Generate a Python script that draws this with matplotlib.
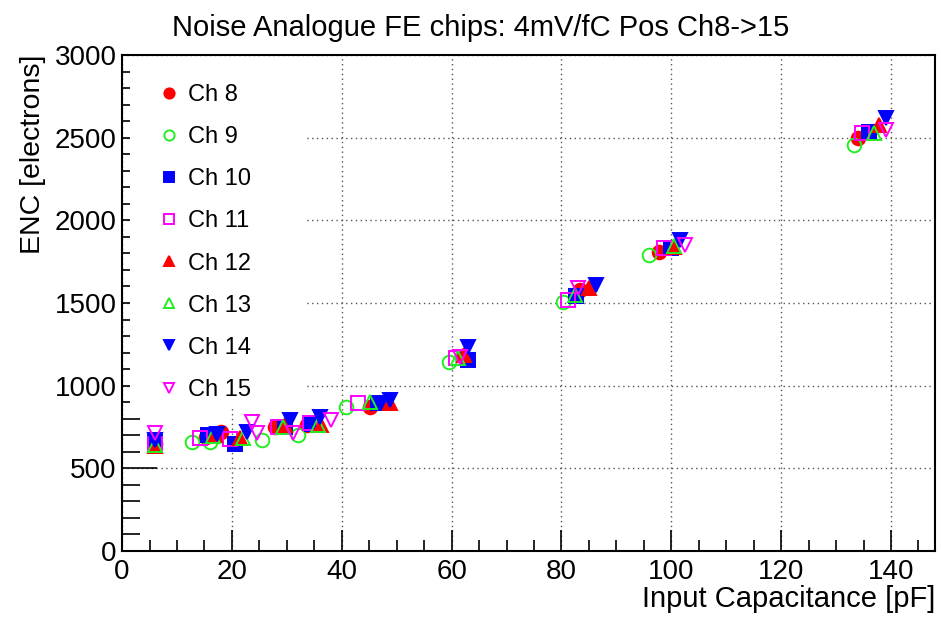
import matplotlib
matplotlib.use("Agg")
import matplotlib.pyplot as plt
from matplotlib.patches import Rectangle
from matplotlib.ticker import MultipleLocator

plt.rcParams['font.family'] = ['Liberation Sans', 'DejaVu Sans']

# ENC vs input capacitance, one list pair per channel
ch8_c = [6.0, 15.2, 18.1, 27.8, 33.6, 45.1, 62.0, 83.3, 97.8, 133.9]
ch8_e = [645, 690, 722, 752, 762, 873, 1180, 1580, 1811, 2496]
ch9_c = [6.0, 12.7, 16.0, 25.4, 32.1, 40.7, 59.6, 80.2, 96.0, 133.3]
ch9_e = [655, 661, 661, 672, 702, 873, 1145, 1508, 1791, 2456]
ch10_c = [6.0, 15.7, 20.5, 29.6, 34.5, 46.6, 63.0, 82.7, 99.9, 136.0]
ch10_e = [661, 702, 645, 752, 770, 893, 1155, 1540, 1835, 2537]
ch11_c = [6.0, 14.2, 19.6, 28.4, 34.3, 43.0, 60.8, 81.1, 98.7, 134.8]
ch11_e = [650, 684, 675, 752, 774, 893, 1167, 1518, 1831, 2527]
ch12_c = [6.0, 16.9, 21.5, 29.6, 36.3, 48.7, 62.2, 85.1, 100.5, 137.8]
ch12_e = [635, 700, 684, 760, 762, 893, 1185, 1590, 1841, 2577]
ch13_c = [6.0, 16.5, 22.0, 29.3, 35.7, 45.1, 61.1, 82.4, 100.5, 136.9]
ch13_e = [640, 695, 684, 752, 762, 903, 1167, 1549, 1845, 2527]
ch14_c = [6.0, 17.2, 22.7, 30.5, 36.0, 48.7, 63.0, 86.3, 101.5, 139.0]
ch14_e = [670, 708, 722, 792, 812, 915, 1236, 1609, 1880, 2620]
ch15_c = [6.0, 23.6, 24.5, 31.1, 38.1, 61.5, 83.0, 102.4, 139.1]
ch15_e = [714, 782, 714, 714, 795, 1175, 1590, 1851, 2547]

channels = [
    ("Ch 8", ch8_c, ch8_e, 'o', '#ff0000', True),
    ("Ch 9", ch9_c, ch9_e, 'o', '#22ee22', False),
    ("Ch 10", ch10_c, ch10_e, 's', '#0000ff', True),
    ("Ch 11", ch11_c, ch11_e, 's', '#ff00ff', False),
    ("Ch 12", ch12_c, ch12_e, '^', '#ff0000', True),
    ("Ch 13", ch13_c, ch13_e, '^', '#22ee22', False),
    ("Ch 14", ch14_c, ch14_e, 'v', '#0000ff', True),
    ("Ch 15", ch15_c, ch15_e, 'v', '#ff00ff', False),
]

fig = plt.figure(figsize=(9.41, 6.17), dpi=100)
ax = fig.add_axes([0.1297, 0.107, 0.8639, 0.8039])

for name, xs, ys, mk, col, filled in channels:
    ax.plot(xs, ys, linestyle='none', marker=mk, markersize=9.8,
            markerfacecolor=col if filled else 'none',
            markeredgecolor=col, markeredgewidth=1.4, label=name, zorder=3)

ax.set_xlim(0, 148)
ax.set_ylim(0, 3000)
ax.xaxis.set_major_locator(MultipleLocator(20))
ax.xaxis.set_minor_locator(MultipleLocator(5))
ax.yaxis.set_major_locator(MultipleLocator(500))
ax.yaxis.set_minor_locator(MultipleLocator(100))
ax.tick_params(which='both', direction='in', top=False, right=False, labelsize=20)
ax.tick_params(axis='x', which='major', length=15, width=1.2, pad=6)
ax.tick_params(axis='x', which='minor', length=8, width=1.2)
ax.tick_params(axis='y', which='major', length=25, width=1.2, pad=4)
ax.tick_params(axis='y', which='minor', length=13, width=1.2)
for sp in ax.spines.values():
    sp.set_linewidth(1.5)

ax.set_axisbelow(True)
ax.grid(True, which='major', linestyle=(0, (1, 2.5)), color='#555555', linewidth=1.0)

# white legend pad hides the grid behind it
ax.add_patch(Rectangle((0.01, 0.292), 0.216, 0.70, transform=ax.transAxes,
                       facecolor='white', edgecolor='none', zorder=1))
ax.legend(loc='upper left', bbox_to_anchor=(0.02, 0.979), frameon=False,
          fontsize=17, markerscale=0.75, handlelength=1.0, handletextpad=0.3,
          labelspacing=0.85, borderpad=0.3)

# title sits centred on the canvas, not on the frame
ax.set_title("Noise Analogue FE chips: 4mV/fC Pos Ch8->15", fontsize=21, pad=14, x=0.4416)
ax.set_xlabel("Input Capacitance [pF]", fontsize=21, loc='right', labelpad=0)
ax.set_ylabel("ENC [electrons]", fontsize=20.5, loc='top', labelpad=6)

fig.savefig("out.png", dpi=100)
